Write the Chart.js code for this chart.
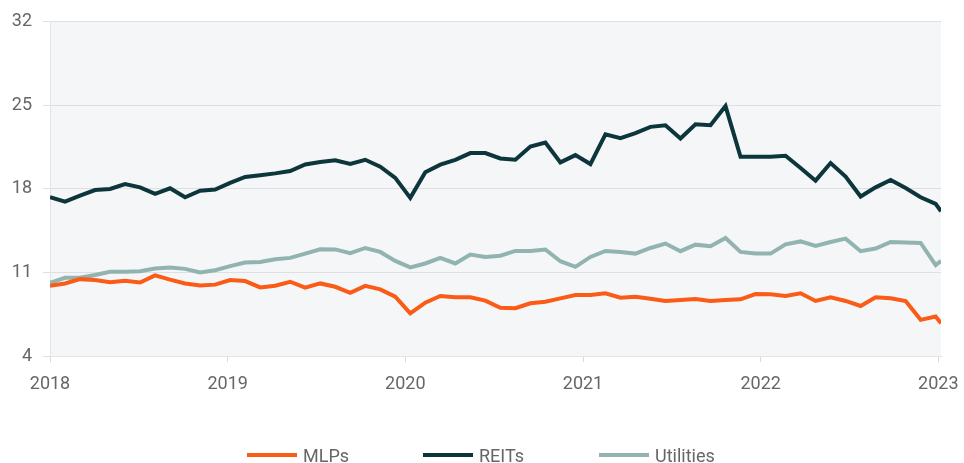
<!DOCTYPE html>
<html>
<head>
<meta charset="utf-8">
<script src="https://cdn.jsdelivr.net/npm/chart.js@4.4.1/dist/chart.umd.min.js"></script>
<style>
  body { margin: 0; background: #fff; }
  #wrap { position: relative; width: 964px; height: 463px; }
  #legend {
    position: absolute; left: 247px; top: 444px; display: flex;
    font-family: Roboto, "Liberation Sans", sans-serif;
    font-size: 18px; color: #666;
  }
  #legend .item { width: 176px; display: flex; align-items: center; height: 22px; }
  #legend .swatch { width: 50px; height: 4px; margin-right: 6px; }
</style>
</head>
<body>
<div id="wrap">
  <canvas id="chart" width="964" height="463"></canvas>
  <div id="legend"></div>
</div>
<script>
// tick labels
const years = ["2018", "2019", "2020", "2021", "2022", "2023"];
const yTicks = [4, 11, 18, 25, 32];

// series values, one per observation (roughly monthly, last one is partial)
const mlps = [9.88, 10.08, 10.44, 10.36, 10.19, 10.3, 10.16, 10.75, 10.4, 10.08,
  9.9, 9.98, 10.36, 10.28, 9.75, 9.89, 10.22, 9.72, 10.08, 9.8,
  9.3, 9.88, 9.58, 8.97, 7.58, 8.47, 9.03, 8.92, 8.92, 8.64,
  8.04, 8.0, 8.42, 8.55, 8.83, 9.11, 9.11, 9.25, 8.88, 8.97,
  8.8, 8.61, 8.69, 8.78, 8.61, 8.69, 8.75, 9.19, 9.17, 9.03,
  9.25, 8.61, 8.92, 8.61, 8.19, 8.92, 8.83, 8.61, 7.03, 7.31, 6.75];
const reits = [17.3, 16.94, 17.44, 17.9, 18.0, 18.4, 18.13, 17.58, 18.05, 17.3,
  17.85, 17.94, 18.5, 19.0, 19.15, 19.3, 19.5, 20.05, 20.25, 20.4,
  20.1, 20.44, 19.86, 18.92, 17.25, 19.4, 20.03, 20.44, 21.0, 21.0,
  20.55, 20.44, 21.55, 21.88, 20.22, 20.83, 20.08, 22.58, 22.25, 22.67,
  23.2, 23.33, 22.22, 23.42, 23.33, 24.94, 20.69, 20.69, 20.69, 20.78,
  19.75, 18.69, 20.17, 19.03, 17.36, 18.13, 18.75, 18.08, 17.3, 16.75, 16.13];
const utilities = [10.13, 10.55, 10.55, 10.78, 11.05, 11.05, 11.1, 11.33, 11.41, 11.3,
  11.0, 11.19, 11.53, 11.83, 11.88, 12.1, 12.22, 12.58, 12.94, 12.93,
  12.62, 13.05, 12.72, 11.97, 11.42, 11.75, 12.22, 11.75, 12.5, 12.3,
  12.4, 12.8, 12.8, 12.92, 11.94, 11.47, 12.3, 12.8, 12.72, 12.58,
  13.05, 13.42, 12.78, 13.33, 13.19, 13.89, 12.72, 12.58, 12.58, 13.36,
  13.6, 13.22, 13.55, 13.83, 12.78, 13.0, 13.55, 13.5, 13.47, 11.61, 11.97];

// observation dates in months after Jan 2018
const lastMonth = 60.18;
const obsMonths = mlps.map((_, i) => i < mlps.length - 1 ? i * 1.0139 : lastMonth);

const series = [
  { label: "MLPs", data: mlps, color: "#fa5b17" },
  { label: "REITs", data: reits, color: "#0c363b" },
  { label: "Utilities", data: utilities, color: "#91b4b1" }
];

const font = { family: "Roboto, 'Liberation Sans', sans-serif", size: 18 };

// light grey plot background
const plotBg = {
  id: "plotBg",
  beforeDraw(chart) {
    const { ctx, chartArea: a } = chart;
    ctx.save();
    ctx.fillStyle = "#f5f6f8";
    ctx.fillRect(a.left, a.top, a.right - a.left, a.bottom - a.top);
    ctx.restore();
  }
};

new Chart(document.getElementById("chart"), {
  type: "line",
  data: {
    datasets: series.map(s => ({
      label: s.label,
      data: s.data.map((v, i) => ({ x: obsMonths[i], y: v })),
      borderColor: s.color,
      backgroundColor: s.color,
      borderWidth: 4,
      pointRadius: 0,
      tension: 0
    }))
  },
  options: {
    responsive: false,
    animation: false,
    devicePixelRatio: 1,
    layout: { padding: { top: 10, right: 23, bottom: 70, left: 0 } },
    plugins: { legend: { display: false }, tooltip: { enabled: false } },
    scales: {
      x: {
        type: "linear",
        min: 0,
        max: lastMonth,
        afterBuildTicks: scale => { scale.ticks = years.map((y, i) => ({ value: i * 12 })); },
        afterFit: scale => { scale.height = 37; scale.paddingRight = 0; },
        ticks: {
          callback: (v) => years[Math.round(v / 12)],
          font: font, color: "#666", padding: 12, maxRotation: 0
        },
        grid: { drawOnChartArea: false, tickLength: 6, color: "#d9dadd" },
        border: { color: "#e3e4e7" }
      },
      y: {
        min: 4,
        max: 32,
        afterBuildTicks: scale => { scale.ticks = yTicks.map(v => ({ value: v })); },
        afterFit: scale => { scale.width = 50; },
        ticks: { font: font, color: "#666", padding: 11 },
        grid: { color: "#dedfe2", tickLength: 7 },
        border: { color: "#e3e4e7" }
      }
    }
  },
  plugins: [plotBg]
});

// legend as a row under the chart
const legend = document.getElementById("legend");
series.forEach(s => {
  const item = document.createElement("div");
  item.className = "item";
  item.innerHTML = '<span class="swatch" style="background:' + s.color + '"></span><span>' + s.label + '</span>';
  legend.appendChild(item);
});
</script>
</body>
</html>
